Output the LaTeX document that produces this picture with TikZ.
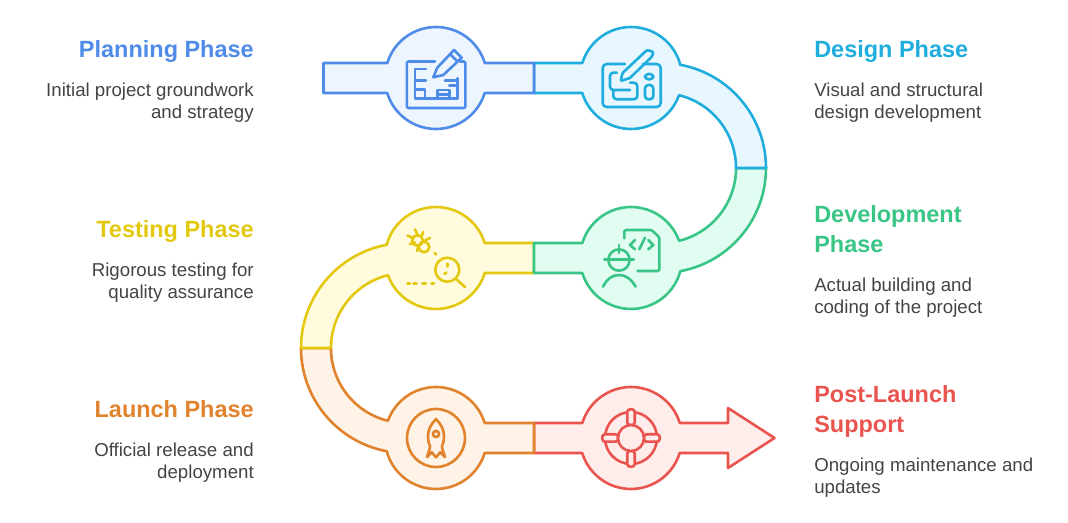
\documentclass[tikz,border=0pt]{standalone}
\usepackage{fontspec}
\setmainfont{Liberation Sans}
\definecolor{bluS}{HTML}{4F8BE8}\definecolor{bluF}{HTML}{EDF5FE}
\definecolor{cyaS}{HTML}{1FADDD}\definecolor{cyaF}{HTML}{E8F7FE}
\definecolor{greS}{HTML}{38C585}\definecolor{greF}{HTML}{E1FCF1}
\definecolor{yelS}{HTML}{E3C80F}\definecolor{yelF}{HTML}{FFFBDC}
\definecolor{oraS}{HTML}{E0832C}\definecolor{oraF}{HTML}{FFF2E6}
\definecolor{redS}{HTML}{E9544F}\definecolor{redF}{HTML}{FFEDEB}
\definecolor{bodyT}{HTML}{444444}
\tikzset{
  x=0.75pt,y=-0.75pt,
  seg/.style={line width=1.95pt,line join=round},
  ico/.style={line width=1.95pt,line cap=round,line join=round},
  ttl/.style={inner sep=0pt,font=\fontsize{17.6pt}{22.5pt}\selectfont\bfseries,align=left},
  bodyr/.style={inner sep=0pt,font=\fontsize{14pt}{16.5pt}\selectfont,text=bodyT,align=right,anchor=base east},
  bodyl/.style={inner sep=0pt,font=\fontsize{14pt}{16.5pt}\selectfont,text=bodyT,align=left,anchor=base west},
}
\begin{document}
\begin{tikzpicture}
\useasboundingbox (0,0) rectangle (1068,523);
% Post-launch
\draw[seg,draw=redS,fill=redF] (534,423) -- (582.3,423) arc[start angle=162.9,end angle=17.1,radius=38.25pt] -- (728,423) -- (728,408) -- (774.5,438) -- (728,468) -- (728,453) -- (679.7,453) arc[start angle=-17.1,end angle=-162.9,radius=38.25pt] -- (534,453) -- cycle;
% Launch
\draw[seg,draw=oraS,fill=oraF] (301,348) arc[start angle=180,end angle=259.4,radius=78.75pt] arc[start angle=195,end angle=342.9,radius=38.25pt] -- (534,453) -- (534,423) -- (484.7,423) arc[start angle=17.1,end angle=160.3,radius=38.25pt] arc[start angle=256.1,end angle=180,radius=56.25pt] -- cycle;
% Testing
\draw[seg,draw=yelS,fill=yelF] (534,243) -- (484.7,243) arc[start angle=17.1,end angle=165,radius=38.25pt] arc[start angle=100.6,end angle=180,radius=78.75pt] -- (331,348) arc[start angle=180,end angle=103.9,radius=56.25pt] arc[start angle=199.7,end angle=342.9,radius=38.25pt] -- (534,273) -- cycle;
% Development
\draw[seg,draw=greS,fill=greF] (766,168) arc[start angle=0,end angle=-79.4,radius=78.75pt] arc[start angle=-15,end angle=-162.9,radius=38.25pt] -- (534,273) -- (534,243) -- (582.3,243) arc[start angle=162.9,end angle=19.7,radius=38.25pt] arc[start angle=-76.1,end angle=0,radius=56.25pt] -- cycle;
% Design
\draw[seg,draw=cyaS,fill=cyaF] (534,63) -- (582.3,63) arc[start angle=162.9,end angle=15,radius=38.25pt] arc[start angle=79.4,end angle=0,radius=78.75pt] -- (736,168) arc[start angle=0,end angle=76.1,radius=56.25pt] arc[start angle=-19.7,end angle=-162.9,radius=38.25pt] -- (534,93) -- cycle;
% Planning
\draw[seg,draw=bluS,fill=bluF] (323.5,63) -- (387.3,63) arc[start angle=162.9,end angle=17.1,radius=38.25pt] -- (534,63) -- (534,93) -- (484.7,93) arc[start angle=-17.1,end angle=-162.9,radius=38.25pt] -- (323.5,93) -- cycle;

% Planning icon
\begin{scope}[ico,draw=bluS]
\draw[rounded corners=1pt] (435,61.5) -- (406.8,61.5) -- (406.8,108) -- (465.3,108) -- (465.3,61.5) -- (460,61.5);
\draw (433.3,77.3) -- (437.3,67.7) -- (454,50) -- (461.7,57.7) -- (443.3,75) -- cycle;
\draw (450,54) -- (457.5,61.5);
\draw (426,69) -- (415,69) -- (415,98.3) -- (457.7,98.3) -- (457.7,78.3);
\draw (415,80.7) -- (426,80.7);
\draw (415,89.3) -- (425,89.3) -- (425,98.3);
\draw (445,80.7) -- (457.7,80.7);
\draw (449.3,85.7) -- (457.7,85.7);
\draw (437.7,98.3) -- (437.7,90) -- (449.3,90) -- (449.3,98.3);
\draw (437.7,94.3) -- (449.3,94.3);
\end{scope}

% Design icon
\begin{scope}[ico,draw=cyaS]
\draw[rounded corners=3pt] (625,64) -- (602.7,64) -- (602.7,107) -- (660.7,107) -- (660.7,64) -- (643,64);
\draw[rounded corners=0.8pt] (620.7,81) -- (622.5,73) -- (647,50) -- (653.5,52) -- (652,56.5) -- (630,78) -- cycle;
\draw[rounded corners=2.5pt] (617,72.7) -- (610,72.7) -- (610,90) -- (630,90);
\draw[rounded corners=2.5pt] (613.3,90) -- (613.3,99.3) -- (637.3,99.3) -- (637.3,82.7) -- (630,82.7);
\draw[rounded corners=2.5pt] (645,74) rectangle (653.3,79.3);
\draw[rounded corners=2.5pt] (645,85) rectangle (653.3,99.3);
\end{scope}

% Development icon
\begin{scope}[ico,draw=greS]
\draw[rounded corners=1pt] (624.3,238.3) -- (624.3,230) -- (651.7,230) -- (659.3,237.3) -- (659.3,271) -- (637.3,271);
\draw (635,240) -- (630,245) -- (635,249.3);
\draw (645,237.7) -- (639.3,249.3);
\draw (648.3,240) -- (653.3,245) -- (648.3,249.3);
\draw (619,260) circle[radius=8pt];
\draw (604.3,259.3) -- (633.7,259.3);
\draw (619,245) -- (619,253);
\draw (603,286.7) .. controls (607,279) and (612,275) .. (619,275) .. controls (626,275) and (631,279) .. (635.7,286.7);
\end{scope}

% Testing icon
\begin{scope}[ico,draw=yelS]
\draw (447.3,269.7) circle[radius=9pt];
\draw (456,279) -- (465,287);
\draw (447.3,263.5) -- (447.3,266.5);
\draw (444.5,274) -- (446.5,272.5);
\draw (407.5,283.3) -- (410,283.3);
\draw (413.5,283.3) -- (416.5,283.3);
\draw (422.5,283.3) -- (426,283.3);
\draw (431.5,283.3) -- (434,283.3);
\draw (434.5,253) -- (436,254.5);
% bug
\draw (424,247) circle[radius=4pt];
\draw (417.5,240.5) circle[radius=4pt];
\draw (415,229.3) -- (417.5,235);
\draw (423,232) -- (421.5,237);
\draw (430,238) -- (425,240.5);
\draw (407.5,235.5) -- (413,238);
\draw (410,244) -- (415,242.5);
\draw (417,251) -- (418.5,246);
\end{scope}

% Launch icon
\begin{scope}[ico,draw=oraS]
\draw (436,438) circle[radius=21.75pt];
\draw (436,419) .. controls (431,424) and (428,430) .. (428,436) .. controls (428,441) and (429,444) .. (430,446) .. controls (430,450) and (428,453) .. (427,457) -- (431.7,452.3) -- (436,457.3) -- (440.3,452.3) -- (445,457) .. controls (444,453) and (442,450) .. (442,446) .. controls (443,444) and (444,441) .. (444,436) .. controls (444,430) and (441,424) .. (436,419) -- cycle;
\draw (436,434) circle[radius=2.3pt];
\end{scope}

% Post-launch icon
\begin{scope}[ico,draw=redS,fill=redF]
\draw (631,438) circle[radius=19.5pt];
\filldraw[rounded corners=2pt] (627.3,409.3) rectangle (634.7,425);
\filldraw[rounded corners=2pt] (627.3,451) rectangle (634.7,466.7);
\filldraw[rounded corners=2pt] (602.3,434.3) rectangle (618,441.7);
\filldraw[rounded corners=2pt] (644,434.3) rectangle (659.7,441.7);
\filldraw (631,438) circle[radius=9.75pt];
\end{scope}

% Labels
\node[ttl,text=bluS,anchor=base east] (t1) at (254,57.5) {Planning Phase};
\node[bodyr] (b1) at (254,118.5) {Initial project groundwork\\and strategy};
\node[ttl,text=cyaS,anchor=base west] (t2) at (814,57.5) {Design Phase};
\node[bodyl] (b2) at (814,118.5) {Visual and structural\\design development};
\node[ttl,text=greS,anchor=base west] (t3) at (814,252.5) {Development\\Phase};
\node[bodyl] (b3) at (814,313.5) {Actual building and\\coding of the project};
\node[ttl,text=yelS,anchor=base east] (t4) at (254,237.5) {Testing Phase};
\node[bodyr] (b4) at (254,298.5) {Rigorous testing for\\quality assurance};
\node[ttl,text=oraS,anchor=base east] (t5) at (254,417.5) {Launch Phase};
\node[bodyr] (b5) at (254,478.5) {Official release and\\deployment};
\node[ttl,text=redS,anchor=base west] (t6) at (814,432.5) {Post-Launch\\Support};
\node[bodyl] (b6) at (814,493.5) {Ongoing maintenance and\\updates};
\end{tikzpicture}
\end{document}
